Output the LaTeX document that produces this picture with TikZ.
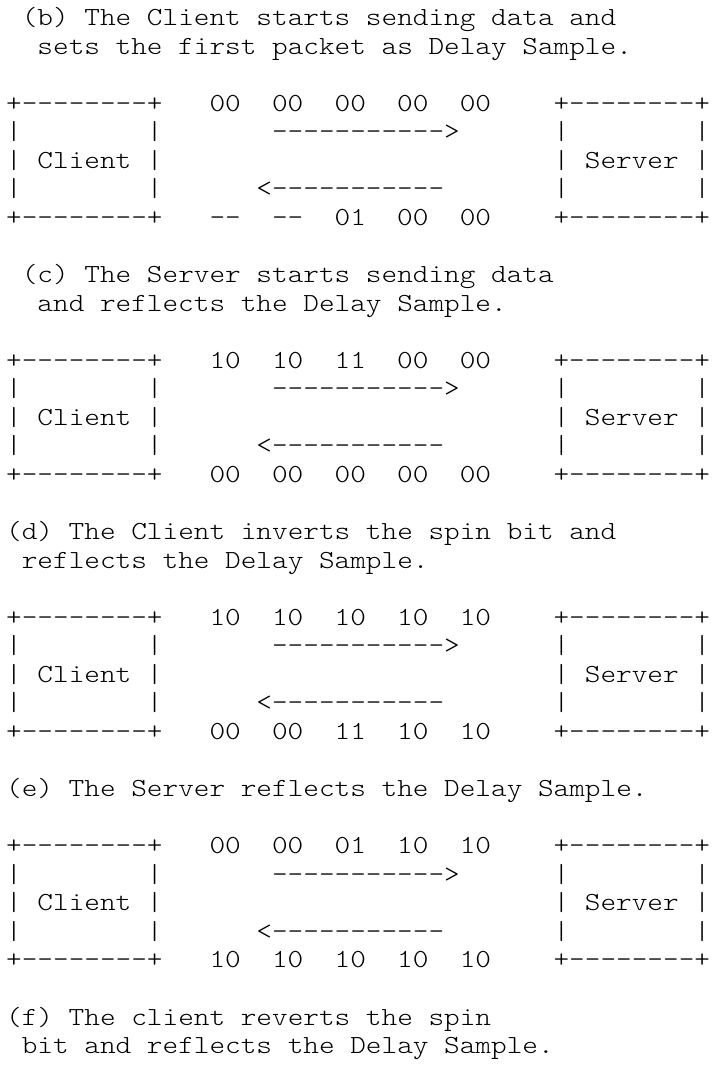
\documentclass[tikz,border=0pt]{standalone}
\usepackage{fontspec}
% thin serif typewriter face, widened to a 15.64pt cell
\setmonofont{lmmonolt10-regular}[Extension=.otf, FakeStretch=1.143]
\tikzset{
  cell/.style={anchor=base west, inner sep=0pt, outer sep=0pt,
    font=\ttfamily\fontsize{26.07}{28.56}\selectfont, text=black},
}
% place a named text cell at column #2, row #3
\newcommand\cellat[4]{\node[cell] (#1) at ({6.2+(#2)*15.64},{-(25.5+(#3)*28.56)}) {#4};}
% one exchange: client box, server box, packet bits and direction arrows
\newcommand\exchange[4]{%
  \cellat{#1-ctop}{0}{#2}{+--------+}
  \cellat{#1-stop}{35}{#2}{+--------+}
  \foreach \v [count=\k from 0] in {#3} {\cellat{#1-up\k}{13+4*\k}{#2}{\v}}
  \cellat{#1-cl1}{0}{#2+1}{|}\cellat{#1-cr1}{9}{#2+1}{|}
  \cellat{#1-sl1}{35}{#2+1}{|}\cellat{#1-sr1}{44}{#2+1}{|}
  \cellat{#1-fwd}{17}{#2+1}{----------->}
  \cellat{#1-cl2}{0}{#2+2}{|}\cellat{#1-client}{2}{#2+2}{Client}\cellat{#1-cr2}{9}{#2+2}{|}
  \cellat{#1-sl2}{35}{#2+2}{|}\cellat{#1-server}{37}{#2+2}{Server}\cellat{#1-sr2}{44}{#2+2}{|}
  \cellat{#1-cl3}{0}{#2+3}{|}\cellat{#1-cr3}{9}{#2+3}{|}
  \cellat{#1-sl3}{35}{#2+3}{|}\cellat{#1-sr3}{44}{#2+3}{|}
  \cellat{#1-back}{16}{#2+3}{<-----------}
  \cellat{#1-cbot}{0}{#2+4}{+--------+}
  \cellat{#1-sbot}{35}{#2+4}{+--------+}
  \foreach \v [count=\k from 0] in {#4} {\cellat{#1-dn\k}{13+4*\k}{#2+4}{\v}}
}
\begin{document}
\begin{tikzpicture}[x=1pt,y=1pt]
\useasboundingbox (0,0) rectangle (715,-1088);
\fill[white] (0,0) rectangle (715,-1088);

% (b)
\cellat{b1}{1}{0}{(b) The Client starts sending data and}
\cellat{b2}{2}{1}{sets the first packet as Delay Sample.}
\exchange{b}{3}{00,00,00,00,00}{--,--,01,00,00}

% (c)
\cellat{c1}{1}{9}{(c) The Server starts sending data}
\cellat{c2}{2}{10}{and reflects the Delay Sample.}
\exchange{c}{12}{10,10,11,00,00}{00,00,00,00,00}

% (d)
\cellat{d1}{0}{18}{(d) The Client inverts the spin bit and}
\cellat{d2}{1}{19}{reflects the Delay Sample.}
\exchange{d}{21}{10,10,10,10,10}{00,00,11,10,10}

% (e)
\cellat{e1}{0}{27}{(e) The Server reflects the Delay Sample.}
\exchange{e}{29}{00,00,01,10,10}{10,10,10,10,10}

% (f)
\cellat{f1}{0}{35}{(f) The client reverts the spin}
\cellat{f2}{1}{36}{bit and reflects the Delay Sample.}
\end{tikzpicture}
\end{document}
